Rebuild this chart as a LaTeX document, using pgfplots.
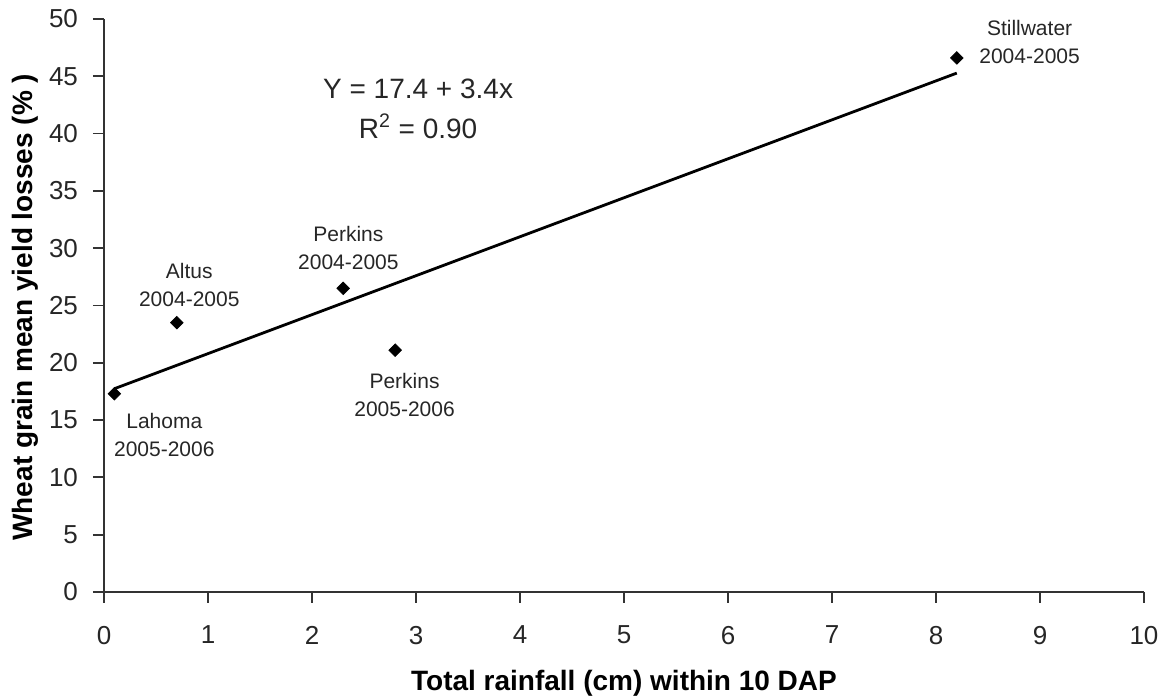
\documentclass[border=0pt]{standalone}
\usepackage{pgfplots}
\pgfplotsset{compat=1.18}
\usepackage{fontspec}
\setmainfont{Liberation Sans}

\begin{document}
\begin{tikzpicture}
\begin{axis}[
  at={(0,0)}, anchor=south west,
  scale only axis,
  width=520pt, height=286.5pt,
  xmin=0, xmax=10, ymin=0, ymax=50,
  xtick={0,1,...,10}, ytick={0,5,...,50},
  axis lines=left,
  axis line style={-, line width=0.9pt, black!80},
  tick style={line width=0.9pt, black!80},
  tick align=outside,
  major tick length=5.5pt,
  /pgf/number format/assume math mode=true,
  ticklabel style={font=\fontsize{13}{15}\selectfont, text=black!85},
  xticklabel style={yshift=-8pt},
  yticklabel style={xshift=-4pt},
  xlabel={Total rainfall (cm) within 10 DAP},
  ylabel={Wheat grain mean yield losses (\% )},
  label style={font=\fontsize{14}{16}\selectfont\bfseries},
  xlabel style={at={(axis description cs:0.5,0)}, anchor=center, yshift=-45.5pt},
  ylabel style={at={(axis description cs:-0.0755,0.497)}, anchor=center},
  clip=false,
]
% fitted regression line
\addplot[black, line width=1.4pt] coordinates {(0.1,17.74) (8.2,45.28)};
% site-year observations
\addplot[only marks, mark=square*, mark size=2.2pt, mark options={rotate=45}, black] coordinates {
  (0.1,17.3) (0.7,23.5) (2.3,26.5) (2.8,21.1) (8.2,46.6)
};
\begin{scope}[every node/.style={align=center, font=\fontsize{10.5}{14}\selectfont, text=black!85}]
\node at (axis cs:8.90,48.0) {Stillwater\\2004-2005};
\node at (axis cs:0.82,26.8) {Altus\\2004-2005};
\node at (axis cs:2.35,30.0) {Perkins\\2004-2005};
\node at (axis cs:2.89,17.2) {Perkins\\2005-2006};
\node at (axis cs:0.58,13.7) {Lahoma\\2005-2006};
\end{scope}
\node[align=center, font=\fontsize{14}{20}\selectfont, text=black!85] at (axis cs:3.02,42.2)
  {Y = 17.4 + 3.4x\\R\textsuperscript{2} = 0.90};
\end{axis}
\pgfresetboundingbox
\path[use as bounding box] (-52pt,-54pt) rectangle (535.5pt,296pt);
\end{tikzpicture}
\end{document}
